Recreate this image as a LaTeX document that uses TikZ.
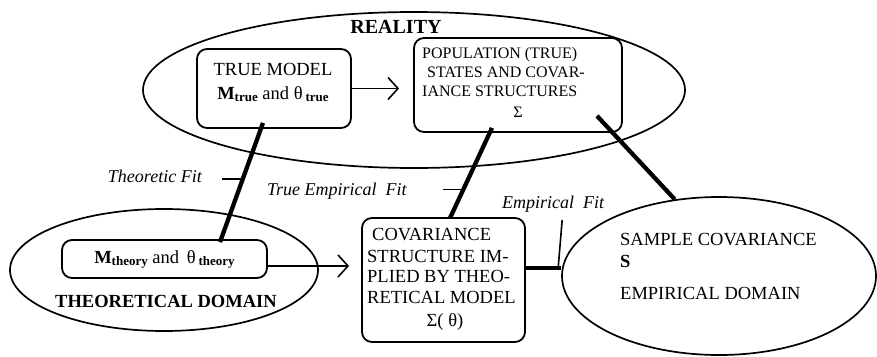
\documentclass[tikz,border=0pt]{standalone}
\usepackage{fontspec}
\setmainfont{Liberation Serif}
\usetikzlibrary{shapes.geometric,arrows.meta,calc}
\newcommand\lowsub[1]{\raisebox{-2pt}{\fontsize{13}{13}\selectfont\bfseries #1}}
\begin{document}
\begin{tikzpicture}[x=1pt,y=-1pt,
  box/.style={draw, line width=1.8pt, rounded corners=10pt, inner sep=0pt},
  dom/.style={draw, ellipse, line width=1.7pt, inner sep=0pt},
  tb/.style={inner sep=0pt, anchor=base, font=\fontsize{18.5}{22}\selectfont},
  tl/.style={inner sep=0pt, anchor=base west, font=\fontsize{18.5}{22}\selectfont},
  tp/.style={inner sep=0pt, anchor=base west, font=\fontsize{16}{20}\selectfont},
  fitlab/.style={inner sep=0pt, font=\fontsize{18}{22}\selectfont\itshape},
  arr/.style={line width=1.6pt, -{Straight Barb[length=10pt,width=22pt]}},
  fitl/.style={line width=4.3pt},
  tick/.style={line width=1.6pt}]
\useasboundingbox (0,0) rectangle (877,356);

% domains
\node[dom, minimum width=542pt, minimum height=156pt] (reality) at (414,90) {};
\node[dom, minimum width=308pt, minimum height=122pt] (theory) at (164,270) {};
\node[dom, minimum width=314pt, minimum height=158pt] (emp) at (719,276) {};

% boxes
\node[box, fill=white, minimum width=154pt, minimum height=79pt] (truebox) at (274,88.5) {};
\node[box, fill=white, minimum width=208pt, minimum height=94pt] (popbox) at (518,85) {};
\node[box, fill=white, minimum width=205pt, minimum height=38pt] (mth) at (164.5,259) {};
\node[box, fill=white, minimum width=163pt, minimum height=124pt] (covbox) at (443.5,280) {};

% texts
\node[tb, font=\fontsize{20}{22}\selectfont\bfseries] (realitytxt) at (396,33) {REALITY};
\node[tb] (true1) at (273,75) {TRUE MODEL};
\node[tb] (true2) at (273,99) {{\bfseries M}\lowsub{true} and θ\hspace{3pt}\lowsub{true}};
\node[tp] (pop1) at (422,58) {POPULATION (TRUE)};
\node[tp] (pop2) at (427,77) {STATES AND COVAR-};
\node[tp] (pop3) at (422,96.5) {IANCE STRUCTURES};
\node[tb, font=\fontsize{16}{20}\selectfont] (pop4) at (518,117) {Σ};
\node[tl] (cov1) at (372,240) {COVARIANCE};
\node[tl] (cov2) at (367,262) {STRUCTURE IM-};
\node[tl] (cov3) at (367,282) {PLIED BY THEO-};
\node[tl] (cov4) at (367,303.5) {RETICAL MODEL};
\node[tb] (cov5) at (445,326) {Σ( θ)};
\node[tb] (mthtxt) at (164.5,263) {{\bfseries M}\lowsub{theory} and \hspace{3pt}θ\hspace{3pt}\lowsub{theory}};
\node[tb, font=\fontsize{18.5}{22}\selectfont\bfseries] (thdom) at (166,307) {THEORETICAL DOMAIN};
\node[tl] (emp1) at (620,245) {SAMPLE COVARIANCE};
\node[tl, font=\fontsize{18.5}{22}\selectfont\bfseries] (emp2) at (620,267) {S};
\node[tl] (emp3) at (620,299) {EMPIRICAL DOMAIN};

% arrows
\draw[arr, shorten >=14pt] (truebox.east) -- (truebox.east -| popbox.west);
\draw[arr, shorten >=12pt] ([yshift=-7pt]mth.east) coordinate (ma) -- (ma -| covbox.west);

% theoretic fit
\draw[fitl] ([xshift=-11pt,yshift=6pt]truebox.south) coordinate (tfa) -- ([xshift=55.5pt,yshift=-3pt]mth.north) coordinate (tfb);
\draw[tick] ($(tfa)!0.47!(tfb)$) coordinate (tft) -- ++(-21,0);
\node[fitlab, anchor=base east] (tflab) at (202,182) {Theoretic Fit};

% true empirical fit
\draw[fitl] ([xshift=-26pt,yshift=5pt]popbox.south) coordinate (tea) -- ([xshift=6.5pt,yshift=-1pt]covbox.north) coordinate (teb);
\draw[tick] ($(tea)!0.685!(teb)$) coordinate (tet) -- ++(-20,0);
\node[fitlab, anchor=base west] (telab) at (267,195) {True Empirical\ \ Fit};

% population to sample
\draw[fitl] ([xshift=79pt,yshift=17pt]popbox.south) coordinate (psa) -- (emp.120);

% empirical fit
\draw[fitl] ([yshift=12pt]covbox.east) coordinate (efa) -- (efa -| emp.west) coordinate (efb);
\draw[tick] ([xshift=-3pt]efb) -- ++(4,-48);
\node[fitlab, anchor=base west] (eflab) at (502,208) {Empirical\ \ Fit};
\end{tikzpicture}
\end{document}
